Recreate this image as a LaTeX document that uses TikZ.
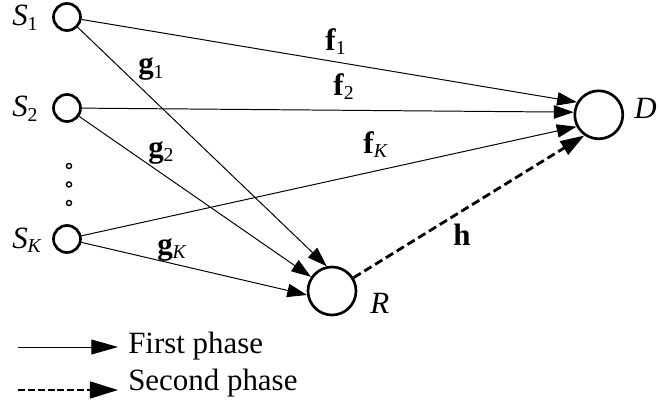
\documentclass[tikz,border=0pt]{standalone}
\usepackage{fontspec}
\setmainfont{Liberation Serif}
\usetikzlibrary{arrows.meta,positioning}

\newcommand{\lowidx}[1]{\raisebox{-3pt}{\fontsize{14}{15}\selectfont #1}}

\tikzset{
  user/.style={draw,circle,line width=1.9pt,minimum size=0.675cm,inner sep=0pt},
  hub/.style={draw,circle,line width=1.9pt,minimum size=1.2cm,inner sep=0pt},
  dotnode/.style={draw,circle,line width=1pt,minimum size=3.6pt,inner sep=0pt},
  lbl/.style={anchor=base west,inner sep=0pt},
  first/.style={line width=0.7pt,-{Triangle[length=14pt,width=9.5pt]}},
  second/.style={line width=2pt,dash pattern=on 6pt off 3pt,-{Triangle[length=17pt,width=11pt]}}
}

\begin{document}
\begin{tikzpicture}[font=\fontsize{22}{26}\selectfont]
\useasboundingbox (0,0) rectangle (16.5,10.15);

\node[user] (s1) at (1.675,9.725) {};
\node[user] (s2) at (1.675,7.45) {};
\node[user] (sk) at (1.675,4.175) {};
\node[dotnode] (dot1) at (1.725,6.0) {};
\node[dotnode] (dot2) at (1.725,5.5375) {};
\node[dotnode] (dot3) at (1.725,5.075) {};
\node[hub] (d) at (14.97,7.28) {};
\node[hub] (r) at (8.3,2.875) {};

\node[lbl] (ls1) at (0.3,9.5) {\textit{S}\lowidx{1}};
\node[lbl] (ls2) at (0.3,7.225) {\textit{S}\lowidx{2}};
\node[lbl] (lsk) at (0.3,3.95) {\textit{S}\lowidx{\textit{K}}};
\node[lbl] (ld) at (15.85,7.2) {\textit{D}};
\node[lbl] (lr) at (9.25,2.325) {\textit{R}};

\draw[first] (s1) -- (d.150);
\draw[first] (s2) -- (d.174);
\draw[first] (sk) -- (d.208);
\draw[first] (s1) -- (r.102);
\draw[first] (s2) -- (r.146);
\draw[first] (sk) -- (r.189);
\draw[second] (r) -- (d.235);

\node[lbl] (lf1) at (8.125,8.9) {\textbf{f}\lowidx{1}};
\node[lbl] (lf2) at (8.325,7.775) {\textbf{f}\lowidx{2}};
\node[lbl] (lfk) at (9.075,6.325) {\textbf{f}\lowidx{\textit{K}}};
\node[lbl] (lg1) at (3.45,8.3) {\textbf{g}\lowidx{1}};
\node[lbl] (lg2) at (3.7,6.225) {\textbf{g}\lowidx{2}};
\node[lbl] (lgk) at (3.925,3.8) {\textbf{g}\lowidx{\textit{K}}};
\node[lbl] (lh) at (11.325,4.025) {\textbf{h}};

% legend
\coordinate (a1) at (0.45,1.475);
\coordinate (b1) at (2.95,1.475);
\coordinate (a2) at (0.45,0.4);
\coordinate (b2) at (2.95,0.4);
\draw[line width=0.7pt,-{Triangle[length=19pt,width=10.6pt]}] (a1) -- (b1);
\draw[line width=1.6pt,dash pattern=on 5pt off 2pt,-{Triangle[length=20pt,width=12pt]}] (a2) -- (b2);
\node[lbl] (t1) at (3.2,1.325) {First phase};
\node[lbl] (t2) at (3.2,0.4) {Second phase};
\end{tikzpicture}
\end{document}
